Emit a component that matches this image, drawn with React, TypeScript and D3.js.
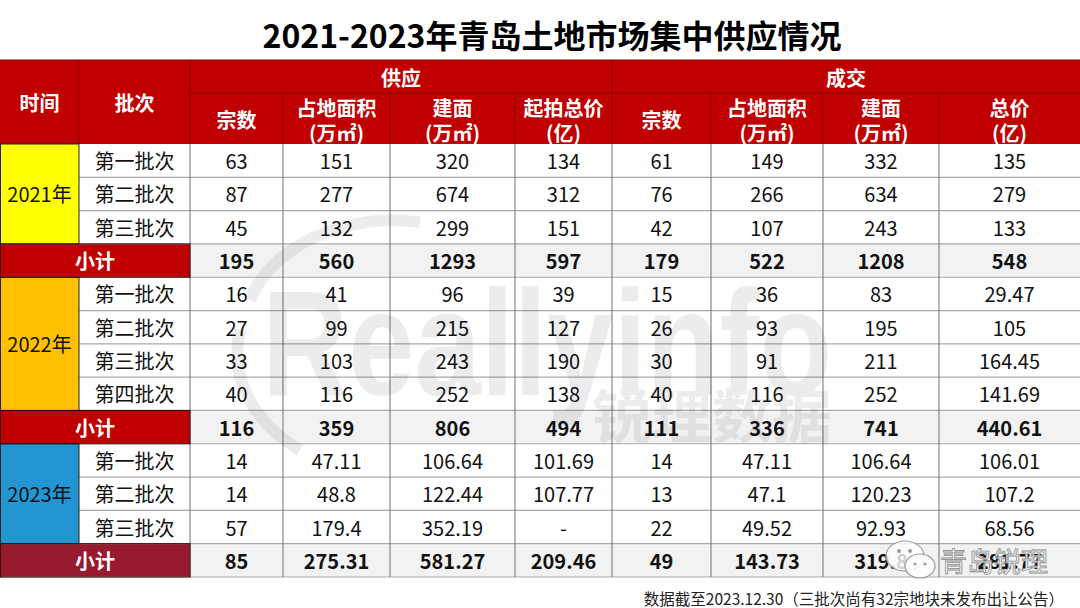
import * as d3 from "d3";

const title = "2021-2023年青岛土地市场集中供应情况";
const note = "数据截至2023.12.30（三批次尚有32宗地块未发布出让公告）";
const years = ["2021年", "2022年", "2023年"];
const batches = [
  ["第一批次", "第二批次", "第三批次"],
  ["第一批次", "第二批次", "第三批次", "第四批次"],
  ["第一批次", "第二批次", "第三批次"],
];
const groups = ["供应", "成交"];
const headers = [
  ["宗数"],
  ["占地面积", "(万㎡)"],
  ["建面", "(万㎡)"],
  ["起拍总价", "(亿)"],
  ["宗数"],
  ["占地面积", "(万㎡)"],
  ["建面", "(万㎡)"],
  ["总价", "(亿)"],
];

// rows in order: batches of each year, then that year's 小计
const supplyCount = ["63", "87", "45", "195", "16", "27", "33", "40", "116", "14", "14", "57", "85"];
const supplyLand = ["151", "277", "132", "560", "41", "99", "103", "116", "359", "47.11", "48.8", "179.4", "275.31"];
const supplyFloor = ["320", "674", "299", "1293", "96", "215", "243", "252", "806", "106.64", "122.44", "352.19", "581.27"];
const supplyPrice = ["134", "312", "151", "597", "39", "127", "190", "138", "494", "101.69", "107.77", "-", "209.46"];
const dealCount = ["61", "76", "42", "179", "15", "26", "30", "40", "111", "14", "13", "22", "49"];
const dealLand = ["149", "266", "107", "522", "36", "93", "91", "116", "336", "47.11", "47.1", "49.52", "143.73"];
const dealFloor = ["332", "634", "243", "1208", "83", "195", "211", "252", "741", "106.64", "120.23", "92.93", "319.8"];
const dealPrice = ["135", "279", "133", "548", "29.47", "105", "164.45", "141.69", "440.61", "106.01", "107.2", "68.56", "281.77"];

const columns = [supplyCount, supplyLand, supplyFloor, supplyPrice, dealCount, dealLand, dealFloor, dealPrice];

const W = 1080,
  H = 608;
const colWidths = [79, 111, 93, 107, 125, 97, 99, 112, 116, 141];
const edges = [0, ...Array.from(d3.cumsum(colWidths))];
const yearColors = ["#FFFF00", "#FFC000", "#2196D3"];
const subColors = ["#C00000", "#C00000", "#981A2E"];
const RED = "#C00000";
const font = "'Noto Sans CJK SC', 'Noto Sans', sans-serif";

type Row = { kind: "batch" | "sub"; group: number; label: string; index: number };

export default function App() {
  const rows: Row[] = [];
  batches.forEach((bs, g) => {
    bs.forEach((b) => rows.push({ kind: "batch", group: g, label: b, index: rows.length }));
    rows.push({ kind: "sub", group: g, label: "小计", index: rows.length });
  });

  const y = d3
    .scaleBand<number>()
    .domain(d3.range(rows.length))
    .range([144, 577]);
  const bh = y.bandwidth();
  const cx = (i: number) => (edges[i] + edges[i + 1]) / 2;

  const headTop = 60,
    headMid = 93,
    headBot = 144;

  // year blocks
  const yearBlocks = years.map((yr, g) => {
    const rs = rows.filter((r) => r.group === g && r.kind === "batch");
    const top = y(rs[0].index)!;
    const bot = y(rs[rs.length - 1].index)! + bh;
    return { yr, g, top, bot };
  });

  return (
    <div style={{ position: "absolute", left: 0, top: 0 }}>
      <svg width={W} height={H} style={{ display: "block", background: "#fff" }} fontFamily={font}>
        <text x={552} y={34} textAnchor="middle" dominantBaseline="central" fontSize={32} fontWeight="bold" fill="#000">
          {title}
        </text>

        {/* header */}
        <rect x={0} y={headTop} width={W} height={headBot - headTop} fill={RED} />
        <line x1={0} x2={W} y1={headTop} y2={headTop} stroke="#8A0000" />
        <line x1={edges[2]} x2={W} y1={headMid} y2={headMid} stroke="#8A0000" />
        {[1, 2, 6].map((i) => (
          <line key={i} x1={edges[i]} x2={edges[i]} y1={headTop} y2={headBot} stroke="#8A0000" />
        ))}
        {[3, 4, 5, 7, 8, 9].map((i) => (
          <line key={i} x1={edges[i]} x2={edges[i]} y1={headMid} y2={headBot} stroke="#8A0000" />
        ))}
        <g fill="#fff" fontWeight="bold" fontSize={20} textAnchor="middle" dominantBaseline="central">
          <text x={cx(0)} y={102}>时间</text>
          <text x={cx(1)} y={102}>批次</text>
          <text x={(edges[2] + edges[6]) / 2} y={77}>{groups[0]}</text>
          <text x={(edges[6] + edges[10]) / 2} y={77}>{groups[1]}</text>
          {headers.map((h, i) =>
            h.length === 1 ? (
              <text key={i} x={cx(i + 2)} y={119}>{h[0]}</text>
            ) : (
              <g key={i}>
                <text x={cx(i + 2)} y={107}>{h[0]}</text>
                <text x={cx(i + 2)} y={132}>{h[1]}</text>
              </g>
            )
          )}
        </g>

        {/* body cells */}
        {rows.map((r) => {
          const top = y(r.index)!;
          const sub = r.kind === "sub";
          return (
            <g key={r.index}>
              {sub ? (
                <>
                  <rect x={0} y={top} width={edges[2]} height={bh} fill={subColors[r.group]} />
                  <rect x={edges[2]} y={top} width={W - edges[2]} height={bh} fill="#F2F2F2" />
                  <text x={edges[2] / 2} y={top + bh / 2} textAnchor="middle" dominantBaseline="central" fontSize={20} fontWeight="bold" fill="#fff">
                    {r.label}
                  </text>
                </>
              ) : (
                <>
                  <rect x={edges[1]} y={top} width={W - edges[1]} height={bh} fill="#fff" />
                  <text x={cx(1)} y={top + bh / 2} textAnchor="middle" dominantBaseline="central" fontSize={20} fill="#111">
                    {r.label}
                  </text>
                </>
              )}
              {columns.map((col, c) => (
                <text
                  key={c}
                  x={cx(c + 2)}
                  y={top + bh / 2}
                  textAnchor="middle"
                  dominantBaseline="central"
                  fontSize={20}
                  fontWeight={sub ? "bold" : "normal"}
                  fill="#111"
                >
                  {col[r.index]}
                </text>
              ))}
            </g>
          );
        })}

        {/* grid lines */}
        {rows.map((r) => {
          const bot = y(r.index)! + bh;
          const full = r.kind === "sub" || rows[r.index + 1]?.kind === "sub";
          return (
            <line key={"h" + r.index} x1={full ? 0 : edges[1]} x2={W} y1={bot} y2={bot} stroke="#A9A9A9" strokeWidth={1.2} />
          );
        })}
        {d3.range(2, 10).map((i) => (
          <line key={"v" + i} x1={edges[i]} x2={edges[i]} y1={headBot} y2={577} stroke="#6F6F6F" />
        ))}

        {/* year cells */}
        {yearBlocks.map((b) => (
          <g key={b.yr}>
            <rect x={0.5} y={b.top} width={edges[1] - 0.5} height={b.bot - b.top} fill={yearColors[b.g]} stroke="#222" />
            <text x={cx(0)} y={(b.top + b.bot) / 2} textAnchor="middle" dominantBaseline="central" fontSize={20} fill="#111">
              {b.yr}
            </text>
          </g>
        ))}
        {rows
          .filter((r) => r.kind === "sub")
          .map((r) => (
            <rect key={"s" + r.index} x={0.5} y={y(r.index)!} width={edges[2] - 0.5} height={bh} fill="none" stroke="#3A0000" />
          ))}

        {/* faint watermark */}
        <g opacity={0.07} pointerEvents="none">
          <path d="M 250 300 A 150 110 0 0 1 420 222" fill="none" stroke="#000" strokeWidth={12} />
          <path d="M 240 330 A 150 120 0 0 0 300 450" fill="none" stroke="#000" strokeWidth={12} />
          <text x={262} y={395} fontSize={150} fontWeight="bold" fontFamily="'Liberation Sans', sans-serif" textLength={570} lengthAdjust="spacingAndGlyphs" fill="#000">
            Reallyinfo
          </text>
          <text x={592} y={438} fontSize={58} fontWeight="bold" textLength={240} lengthAdjust="spacingAndGlyphs" fill="#000">
            锐理数据
          </text>
        </g>

        {/* wechat mark */}
        <g>
          <ellipse cx={905} cy={556} rx={19} ry={15} fill="#fff" fillOpacity={0.8} stroke="#9A9A9A" strokeWidth={1.2} />
          <ellipse cx={920} cy={566} rx={15} ry={12} fill="#fff" fillOpacity={0.8} stroke="#9A9A9A" strokeWidth={1.2} />
          <circle cx={899} cy={551} r={2} fill="#9A9A9A" />
          <circle cx={910} cy={551} r={2} fill="#9A9A9A" />
          <circle cx={915} cy={564} r={1.6} fill="#9A9A9A" />
          <circle cx={925} cy={564} r={1.6} fill="#9A9A9A" />
          <text x={940} y={560} dominantBaseline="central" fontSize={27} fill="#fff" fillOpacity={0.85} stroke="#8A8A8A" strokeWidth={0.8}>
            青岛锐理
          </text>
        </g>

        <text x={1064} y={598} textAnchor="end" dominantBaseline="central" fontSize={15.5} fill="#222">
          {note}
        </text>
      </svg>
    </div>
  );
}
